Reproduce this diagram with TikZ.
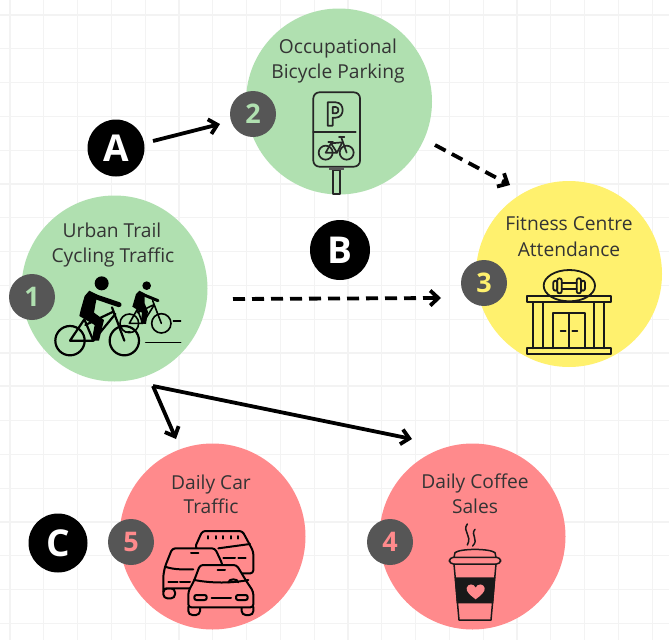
\documentclass[tikz,border=0pt]{standalone}
\usepackage{fontspec}
\setmainfont{Open Sans}
\usetikzlibrary{arrows.meta}
\definecolor{cgreen}{HTML}{B0E0B0}
\definecolor{cyellow}{HTML}{FFF16E}
\definecolor{cred}{HTML}{FF8A8C}
\definecolor{cbadge}{HTML}{565656}
\definecolor{cgrid}{HTML}{F3F3F3}
\definecolor{ctext}{HTML}{343434}
\tikzset{
  bubble/.style={circle,inner sep=0pt,minimum size=186pt,fill=#1},
  badge/.style={circle,inner sep=0pt,minimum size=46pt,fill=cbadge,text=#1,font=\fontsize{27}{27}\selectfont\bfseries},
  letter/.style={circle,inner sep=0pt,minimum size=#1,fill=black,text=white,font=\fontsize{37}{37}\selectfont\bfseries},
  label/.style={text=ctext,font=\fontsize{19.2}{19.2}\selectfont,inner sep=0pt,anchor=base},
  link/.style={line width=3.8pt,-{Straight Barb[length=8pt,width=15pt]}},
  dashlink/.style={link,dash pattern=on 12pt off 7pt},
  ico/.style={line width=0.5pt,draw=black,line join=round,line cap=round},
  zoom/.style={x=0.33333pt,y=-0.33333pt},
}
\begin{document}
\begin{tikzpicture}[x=1pt,y=-1pt]
\useasboundingbox (0,0) rectangle (669,640);
\fill[white] (0,0) rectangle (669,640);
% grid
\foreach \k in {0,...,19} {
  \draw[cgrid,line width=1.3pt] ({10+33.8*\k},0) -- ({10+33.8*\k},640);
  \draw[cgrid,line width=1.3pt] (0,{15+33.8*\k}) -- (669,{15+33.8*\k});
}
\draw[cgrid,line width=2.5pt] (0,386) -- (669,386);
% bubbles
\node[bubble=cgreen] (n1) at (114.5,288.5) {};
\node[bubble=cgreen] (n2) at (339,101.5) {};
\node[bubble=cyellow] (n3) at (569,274) {};
\node[bubble=cred] (n5) at (212.5,536.5) {};
\node[bubble=cred] (n4) at (472.5,536.5) {};
% labels
\node[label] (t1a) at (112,237.5) {Urban Trail};
\node[label] (t1b) at (113,262.5) {Cycling Traffic};
\node[label] (t2a) at (338,53.5) {Occupational};
\node[label] (t2b) at (338,78.5) {Bicycle Parking};
\node[label] (t3a) at (569,230.5) {Fitness Centre};
\node[label] (t3b) at (569,256.5) {Attendance};
\node[label] (t5a) at (211,489.5) {Daily Car};
\node[label] (t5b) at (211,513.5) {Traffic};
\node[label] (t4a) at (475,488.5) {Daily Coffee};
\node[label] (t4b) at (475,513.5) {Sales};
% badges
\node[badge=cgreen] (b1) at (32,297) {1};
\node[badge=cgreen] (b2) at (253,114) {2};
\node[badge=cyellow] (b3) at (484,283) {3};
\node[badge=cred] (b5) at (131,542) {5};
\node[badge=cred] (b4) at (390,542) {4};
% letters
\node[letter=57pt] (la) at (116,148) {A};
\node[letter=60pt] (lb) at (340,250) {B};
\node[letter=59pt] (lc) at (58,543) {C};
% connector ends
\coordinate (a0) at (153,141);
\coordinate (a1) at (220,124);
\coordinate (d0) at (435,145);
\coordinate (d1) at (510,185);
\coordinate (e0) at (233,299);
\coordinate (e1) at (441,298);
\coordinate (f0) at (153,386);
\coordinate (f1) at (176,439);
\coordinate (f2) at (412,439);
\draw[link] (a0) -- (a1);
\draw[dashlink] (d0) -- (d1);
\draw[dashlink] (e0) -- (e1);
\draw[link] (f0) -- (f1);
\draw[link] (f0) -- (f2);
% cyclists
\begin{scope}[shift={(50,270)},zoom]
  \begin{scope}[ico,line width=1.6pt]
    \draw (238,160) circle (28);
    \draw (334,160) circle (29);
    \draw (238,160) -- (262,118) -- (278,160) -- cycle;
    \draw (262,128) -- (312,104);
    \draw (312,106) -- (278,160);
    \draw (308,92) -- (334,160);
  \end{scope}
  \fill (290,47) circle (13);
  \fill (268,62) -- (284,70) -- (284,100) -- (294,125) -- (288,162) -- (272,160) -- (276,128) -- (247,110) -- (250,100) -- (258,72) -- cycle;
  \draw[ico,line width=3pt] (280,74) -- (324,92);
  \begin{scope}[ico,line width=2.2pt]
    \draw (60,212) circle (44);
    \draw (223,212) circle (44);
    \draw (60,212) -- (103,148) -- (130,212) -- cycle;
    \draw (106,165) -- (190,125);
    \draw (196,132) -- (130,212);
    \draw (186,112) -- (223,212);
  \end{scope}
  \fill (155,40) circle (21);
  \fill (118,62) -- (142,74) -- (136,105) -- (132,128) -- (162,150) -- (147,212) -- (125,212) -- (134,165) -- (88,138) -- (92,120) -- (104,78) -- cycle;
  \draw[ico,line width=5pt] (130,78) -- (207,104);
  \draw[ico,line width=1.4pt] (226,187) -- (240,185);
  \draw[ico,line width=1.4pt] (287,217) -- (392,217);
  \draw[ico,line width=1.4pt] (370,153) -- (392,153);
\end{scope}
% parking sign
\begin{scope}[shift={(305,85)},zoom]
  \begin{scope}[ico,line width=1.7pt,draw=black!85]
    \draw[rounded corners=6pt] (25,22) rectangle (165,245);
    \draw (25,142) -- (152,142);
    \draw (68,122) -- (68,52) -- (92,52) .. controls (120,52) and (120,98) .. (92,98) -- (83,98) -- (83,122) -- cycle;
    \draw (83,66) -- (92,66) .. controls (103,66) and (103,85) .. (92,85) -- (83,85) -- cycle;
    \draw (85,254) rectangle (105,326);
    \fill[black!65] (72,246) rectangle (118,254);
    \draw (62,203) circle (21);
    \draw (125,203) circle (21);
    \draw (62,203) -- (78,175) -- (96,203) -- cycle;
    \draw (78,175) -- (112,172) -- (96,203);
    \draw (108,155) -- (125,203);
    \draw (102,155) -- (118,155);
    \draw (70,172) -- (84,172);
  \end{scope}
\end{scope}
% fitness centre
\begin{scope}[shift={(450,170)},zoom]
  \begin{scope}[ico,line width=1.8pt,draw=black!90]
    \draw (358,347) ellipse (77 and 47);
    \draw (335,338) -- (380,338) (335,356) -- (380,356);
    \draw[rounded corners=2pt] (322,325) rectangle (335,370);
    \draw[rounded corners=2pt] (310,332) rectangle (322,362);
    \draw[rounded corners=2pt] (380,325) rectangle (393,370);
    \draw[rounded corners=2pt] (393,332) rectangle (405,362);
    \draw (232,377) rectangle (483,396);
    \draw (250,396) -- (250,535) (280,396) -- (280,535);
    \draw (433,396) -- (433,535) (463,396) -- (463,535);
    \draw (309,535) -- (309,430) -- (406,430) -- (406,535);
    \draw (357,430) -- (357,535);
    \draw (332,482) -- (347,482) (367,482) -- (382,482);
    \draw (232,535) rectangle (483,553);
  \end{scope}
\end{scope}
% coffee
\begin{scope}[shift={(360,440)},zoom]
  \begin{scope}[ico,line width=1.5pt,draw=black!90]
    \draw (322,252) .. controls (305,275) and (338,285) .. (322,315);
    \draw (345,268) .. controls (330,285) and (358,298) .. (338,318);
    \draw (282,352) -- (285,338) .. controls (300,325) and (390,325) .. (405,338) -- (408,352);
    \draw[rounded corners=4pt] (268,352) rectangle (422,372);
    \draw (282,372) -- (297,540) -- (393,540) -- (408,372);
  \end{scope}
  \fill[black!90] (284,412) -- (406,412) -- (400,490) -- (290,490) -- cycle;
  \fill[cred] (347,478) .. controls (330,465) and (318,455) .. (320,444) .. controls (323,430) and (342,430) .. (347,443) .. controls (352,430) and (371,430) .. (374,444) .. controls (376,455) and (364,465) .. (347,478) -- cycle;
\end{scope}
% cars
\begin{scope}[shift={(155,520)},zoom]
  \begin{scope}[ico,line width=2pt,fill=cred,rounded corners=3pt]
    % back car
    \filldraw (120,82) -- (142,33) -- (262,33) -- (283,72) -- (295,95) -- (295,160) -- (200,160) -- cycle;
    \draw (190,85) -- (285,72);
    \draw (205,115) -- (240,115) (250,115) -- (272,115);
    \foreach \px in {160,182,205,228,250} \draw (\px,48) -- (\px,56);
    % left car
    \filldraw[rounded corners=4pt] (25,205) rectangle (60,235);
    \filldraw (25,212) -- (25,165) -- (30,140) -- (52,85) -- (180,85) -- (202,132) -- (205,205) -- (60,205) -- (25,205) -- cycle;
    \draw (30,140) .. controls (60,150) and (85,148) .. (115,148);
    \draw (108,100) -- (130,100);
    \draw (40,185) -- (68,185) (75,185) -- (105,185);
    % front car
    \filldraw[rounded corners=4pt] (100,250) rectangle (135,285);
    \filldraw[rounded corners=4pt] (260,250) rectangle (295,285);
    \filldraw (100,262) -- (100,215) -- (118,180) -- (135,135) -- (245,135) -- (275,185) -- (295,215) -- (295,262) -- cycle;
    \draw (118,180) .. controls (170,190) and (230,190) .. (280,180);
    \draw (220,187) .. controls (222,175) and (248,175) .. (250,187);
    \draw (188,150) -- (210,150);
    \draw[rounded corners=2pt] (118,225) rectangle (155,240);
    \draw[rounded corners=2pt] (243,225) rectangle (278,240);
    \draw (170,233) -- (228,233);
  \end{scope}
\end{scope}
\end{tikzpicture}
\end{document}
